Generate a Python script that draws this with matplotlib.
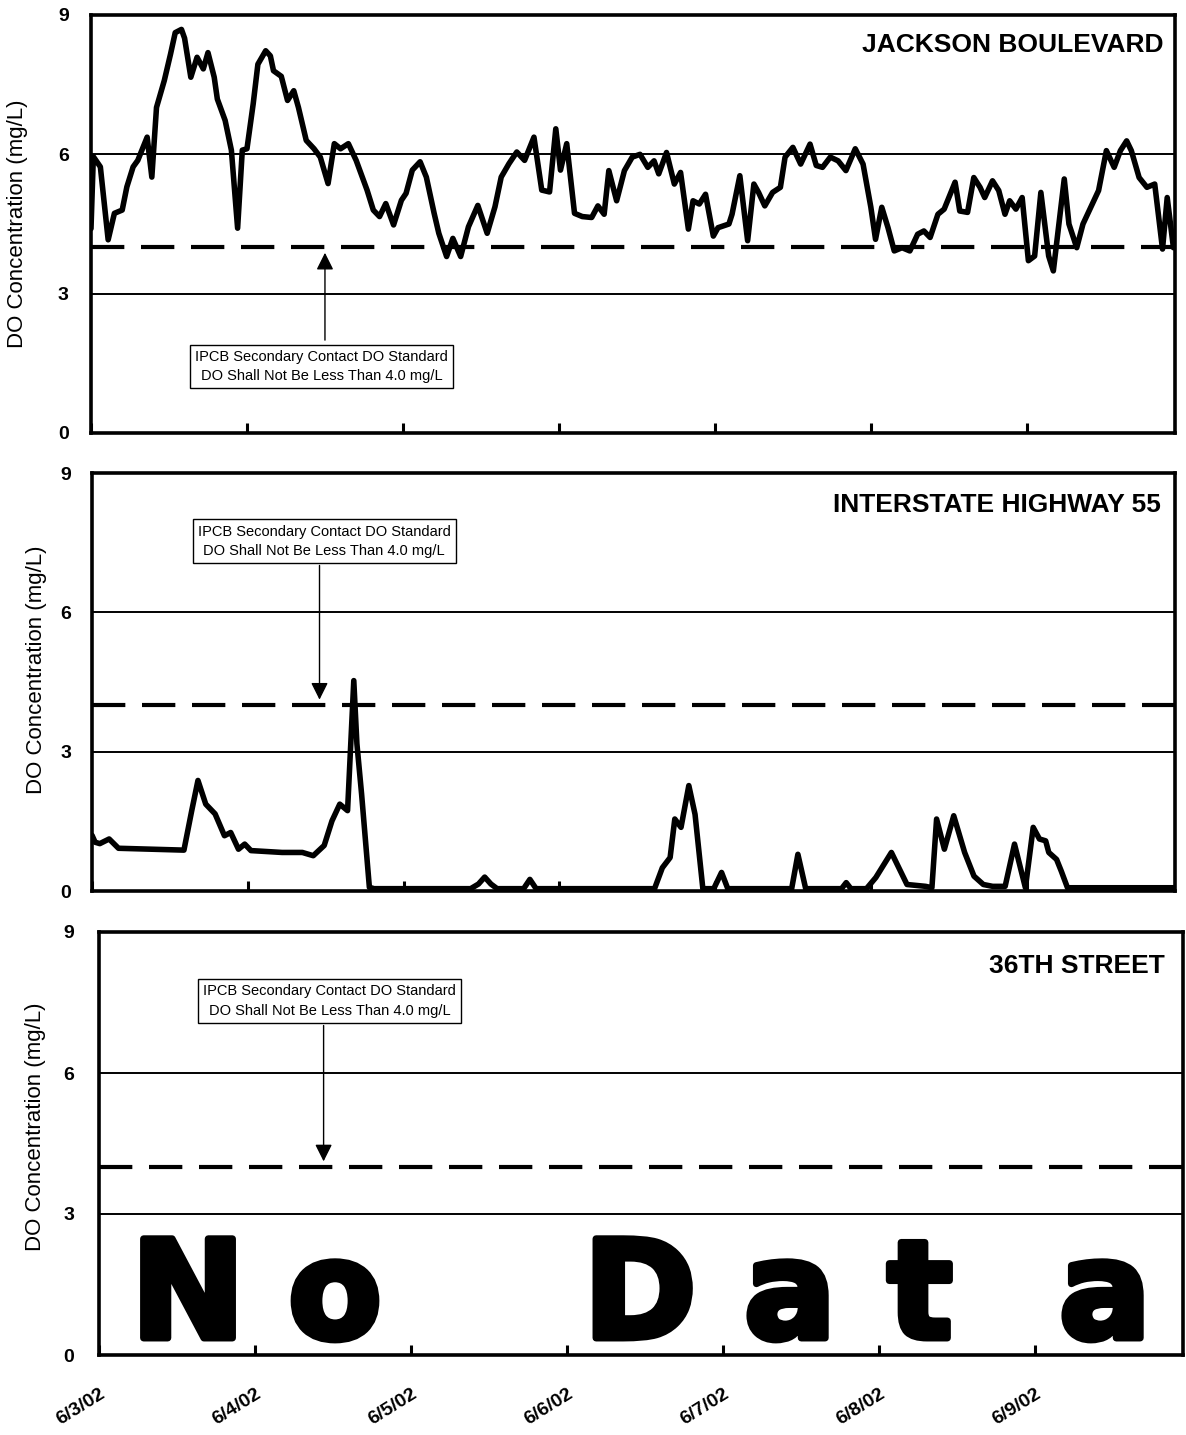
"""
DO concentration at three Chicago river stations, 6/3/02 - 6/9/02.
Three stacked panels with the 4.0 mg/L secondary contact standard.
"""
import matplotlib

matplotlib.use("Agg")
import matplotlib.pyplot as plt
import matplotlib.patheffects as pe

plt.rcParams["font.family"] = ["Liberation Sans", "DejaVu Sans"]

# --- Data --------------------------------------------------------------------
# days since 6/3/02 00:00, DO in mg/L
jackson_days = [
    0.00, 0.015, 0.06, 0.11, 0.15, 0.20, 0.23, 0.27, 0.30, 0.36,
    0.39, 0.42, 0.47, 0.51, 0.54, 0.58, 0.60, 0.64, 0.68, 0.72,
    0.75, 0.79, 0.81, 0.86, 0.90, 0.94, 0.97, 1.00, 1.04, 1.07,
    1.12, 1.15, 1.17, 1.22, 1.26, 1.30, 1.33, 1.38, 1.43, 1.47,
    1.52, 1.56, 1.60, 1.65, 1.70, 1.77, 1.81, 1.85, 1.89, 1.94,
    1.99, 2.02, 2.06, 2.11, 2.15, 2.20, 2.23, 2.28, 2.32, 2.37,
    2.42, 2.48, 2.54, 2.59, 2.63, 2.68, 2.73, 2.78, 2.84, 2.89,
    2.94, 2.98, 3.01, 3.05, 3.10, 3.15, 3.21, 3.25, 3.29, 3.32,
    3.37, 3.42, 3.47, 3.52, 3.57, 3.61, 3.64, 3.69, 3.74, 3.78,
    3.83, 3.86, 3.90, 3.94, 3.99, 4.02, 4.09, 4.11, 4.16, 4.21,
    4.25, 4.28, 4.32, 4.37, 4.42, 4.45, 4.50, 4.55, 4.61, 4.65,
    4.69, 4.74, 4.79, 4.84, 4.90, 4.95, 5.00, 5.03, 5.07, 5.11,
    5.15, 5.20, 5.25, 5.30, 5.34, 5.38, 5.43, 5.47, 5.54, 5.57,
    5.62, 5.66, 5.70, 5.73, 5.78, 5.82, 5.86, 5.89, 5.93, 5.97,
    6.01, 6.05, 6.09, 6.14, 6.17, 6.24, 6.27, 6.32, 6.36, 6.41,
    6.46, 6.51, 6.56, 6.60, 6.64, 6.67, 6.72, 6.77, 6.82, 6.87,
    6.90, 6.94,
]
jackson_do = [
    4.40, 5.95, 5.73, 4.16, 4.73, 4.80, 5.30, 5.73, 5.87, 6.37,
    5.51, 7.01, 7.59, 8.16, 8.62, 8.69, 8.50, 7.66, 8.09, 7.84,
    8.19, 7.66, 7.19, 6.73, 6.09, 4.41, 6.09, 6.12, 7.09, 7.94,
    8.23, 8.12, 7.80, 7.68, 7.16, 7.37, 7.01, 6.30, 6.12, 5.94,
    5.37, 6.23, 6.12, 6.23, 5.87, 5.23, 4.80, 4.66, 4.94, 4.48,
    5.01, 5.16, 5.66, 5.84, 5.51, 4.73, 4.30, 3.80, 4.19, 3.80,
    4.44, 4.90, 4.30, 4.87, 5.51, 5.80, 6.05, 5.87, 6.37, 5.23,
    5.19, 6.55, 5.66, 6.23, 4.73, 4.66, 4.64, 4.89, 4.71, 5.65,
    5.00, 5.65, 5.94, 6.00, 5.72, 5.86, 5.58, 6.04, 5.36, 5.61,
    4.39, 5.00, 4.93, 5.14, 4.24, 4.42, 4.50, 4.71, 5.54, 4.14,
    5.36, 5.18, 4.89, 5.18, 5.29, 5.94, 6.15, 5.79, 6.22, 5.76,
    5.72, 5.94, 5.86, 5.65, 6.12, 5.79, 4.86, 4.17, 4.86, 4.42,
    3.92, 3.99, 3.92, 4.28, 4.35, 4.21, 4.71, 4.82, 5.40, 4.78,
    4.75, 5.50, 5.29, 5.07, 5.43, 5.22, 4.71, 5.00, 4.82, 5.07,
    3.71, 3.81, 5.18, 3.81, 3.49, 5.47, 4.50, 3.99, 4.50, 4.86,
    5.22, 6.08, 5.72, 6.08, 6.29, 6.08, 5.50, 5.29, 5.36, 3.96,
    5.07, 3.99,
]

i55_days = [
    0.00, 0.02, 0.05, 0.11, 0.17, 0.38, 0.59, 0.64, 0.68, 0.73,
    0.79, 0.85, 0.89, 0.94, 0.98, 1.02, 1.22, 1.35, 1.42, 1.49,
    1.54, 1.59, 1.64, 1.68, 1.70, 1.73, 1.78, 1.81, 2.43, 2.48,
    2.52, 2.56, 2.60, 2.77, 2.81, 2.85, 3.61, 3.66, 3.71, 3.74,
    3.78, 3.83, 3.87, 3.92, 3.99, 4.04, 4.08, 4.49, 4.53, 4.58,
    4.81, 4.84, 4.87, 4.97, 5.03, 5.13, 5.23, 5.35, 5.39, 5.42,
    5.47, 5.53, 5.60, 5.66, 5.72, 5.78, 5.86, 5.92, 5.99, 6.04,
    6.08, 6.12, 6.14, 6.19, 6.22, 6.26, 6.95,
]
i55_do = [
    1.20, 1.05, 1.02, 1.12, 0.92, 0.90, 0.88, 1.73, 2.38, 1.87,
    1.66, 1.19, 1.26, 0.90, 1.01, 0.87, 0.83, 0.83, 0.76, 0.98,
    1.51, 1.87, 1.73, 4.53, 3.17, 2.09, 0.08, 0.05, 0.05, 0.15,
    0.30, 0.15, 0.05, 0.05, 0.25, 0.05, 0.05, 0.50, 0.72, 1.55,
    1.37, 2.27, 1.65, 0.05, 0.05, 0.40, 0.05, 0.05, 0.79, 0.05,
    0.05, 0.18, 0.05, 0.05, 0.29, 0.83, 0.14, 0.10, 0.07, 1.55,
    0.90, 1.62, 0.83, 0.32, 0.14, 0.10, 0.10, 1.01, 0.07, 1.37,
    1.12, 1.08, 0.83, 0.68, 0.43, 0.07, 0.07,
]

date_labels = ["6/3/02", "6/4/02", "6/5/02", "6/6/02", "6/7/02", "6/8/02", "6/9/02"]
y_ticks = [0, 3, 6, 9]
do_standard = 4.0
station_names = ["JACKSON BOULEVARD", "INTERSTATE HIGHWAY 55", "36TH STREET"]
note_text = "IPCB Secondary Contact DO Standard\nDO Shall Not Be Less Than 4.0 mg/L"
no_data_letters = ["N", "o", "D", "a", "t", "a"]

# --- Layout ------------------------------------------------------------------
W, H = 1186, 1435


def px_axes(left, right, top, bottom):
    return [left / W, 1 - bottom / H, (right - left) / W, (bottom - top) / H]


panel_boxes = [
    px_axes(91, 1175, 15, 433),
    px_axes(92, 1175, 473, 891),
    px_axes(99, 1183, 932, 1355),
]
XMAX = 6.95

fig = plt.figure(figsize=(W / 100, H / 100), dpi=100)
axes = [fig.add_axes(b) for b in panel_boxes]

# per panel: ylabel pos (axes frac), ytick pad, title pos, note centre,
# arrow tip / start (data units)
panel_cfg = [
    dict(ylab=(-0.058, 0.5), ypad=16, title=(0.989, 0.928),
         note=(1.48, 1.43), tip=3.88, start=2.0, arrow_x=1.50),
    dict(ylab=(-0.042, 0.53), ypad=15, title=(0.987, 0.923),
         note=(1.49, 7.53), tip=4.12, start=7.01, arrow_x=1.46),
    dict(ylab=(-0.049, 0.54), ypad=18, title=(0.983, 0.92),
         note=(1.48, 7.53), tip=4.12, start=7.01, arrow_x=1.44),
]

for i, (ax, cfg) in enumerate(zip(axes, panel_cfg)):
    ax.set_xlim(0, XMAX)
    ax.set_ylim(0, 9)
    for s in ax.spines.values():
        s.set_linewidth(2.6)
        s.set_color("black")

    # gridlines and the standard
    for g in (3, 6):
        ax.axhline(g, color="black", lw=1.4, zorder=1)
    ax.axhline(do_standard, color="black", lw=3.0, dashes=(8, 4), zorder=2)

    ax.set_yticks(y_ticks)
    ax.set_yticklabels([str(t) for t in y_ticks], fontsize=14, fontweight="bold")
    ax.tick_params(axis="y", length=0, pad=cfg["ypad"])
    ax.set_ylabel("DO Concentration (mg/L)", fontsize=16)
    ax.yaxis.set_label_coords(*cfg["ylab"])

    ax.set_xticks(range(0, 7))
    ax.tick_params(axis="x", direction="in", length=7, width=2.2)
    if i < 2:
        ax.set_xticklabels([])
    else:
        ax.set_xticklabels(date_labels, fontsize=14, fontweight="bold")
        ax.tick_params(axis="x", pad=22)
        plt.setp(ax.get_xticklabels(), rotation=32, ha="right",
                 rotation_mode="anchor")

    ax.text(*cfg["title"], station_names[i], transform=ax.transAxes,
            ha="right", va="center", fontsize=19, fontweight="bold")

    # standard note with arrow pointing at the 4.0 line
    nx, ny = cfg["note"]
    ax.text(nx, ny, note_text, ha="center", va="center", fontsize=10.5,
            linespacing=1.5, zorder=5,
            bbox=dict(boxstyle="square,pad=0.35", fc="white", ec="black", lw=1.0))
    ax.annotate("", xy=(cfg["arrow_x"], cfg["tip"]),
                xytext=(cfg["arrow_x"], cfg["start"]),
                arrowprops=dict(arrowstyle="-|>", color="black", lw=1.0,
                                mutation_scale=26, shrinkA=0, shrinkB=0),
                zorder=4)

axes[0].plot(jackson_days, jackson_do, color="black", lw=4.0,
             solid_joinstyle="round", solid_capstyle="round", zorder=3)
axes[1].plot(i55_days, i55_do, color="black", lw=4.0,
             solid_joinstyle="round", solid_capstyle="round", zorder=3)

# "No Data" stamp on the 36th Street panel
letter_x = [188, 335, 640, 790, 920, 1105]
for ch, xp in zip(no_data_letters, letter_x):
    fig.text(xp / W, 1 - 1338 / H, ch, ha="center", va="baseline",
             fontsize=98, fontweight="bold", family=["DejaVu Sans"],
             path_effects=[pe.withStroke(linewidth=5, foreground="black")])

fig.savefig("out.png", dpi=100)
